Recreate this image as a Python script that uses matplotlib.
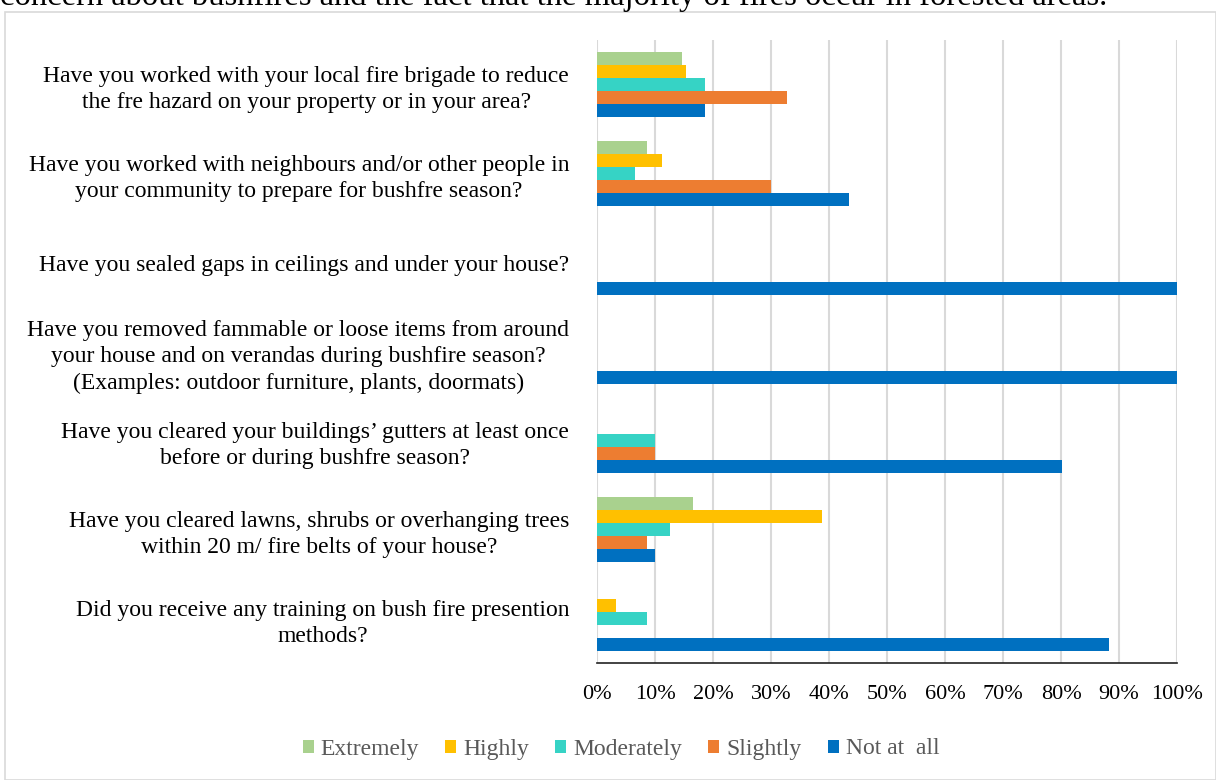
import numpy as np
import matplotlib
matplotlib.use("Agg")
import matplotlib.pyplot as plt
from matplotlib.patches import Rectangle
from matplotlib.ticker import PercentFormatter

plt.rcParams['font.family'] = ['Liberation Serif', 'DejaVu Serif']

questions = [
    "Have you worked with your local fire brigade to reduce\nthe fre hazard on your property or in your area?",
    "Have you worked with neighbours and/or other people in\nyour community to prepare for bushfre season?",
    "Have you sealed gaps in ceilings and under your house?",
    "Have you removed fammable or loose items from around\nyour house and on verandas during bushfire season?\n(Examples: outdoor furniture, plants, doormats)",
    "Have you cleared your buildings\u2019 gutters at least once\nbefore or during bushfre season?",
    "Have you cleared lawns, shrubs or overhanging trees\nwithin 20 m/ fire belts of your house?",
    "Did you receive any training on bush fire presention\nmethods?",
]

series_names = ["Extremely", "Highly", "Moderately", "Slightly", "Not at  all"]
colors = ["#A9D18E", "#FFC000", "#36D3C5", "#ED7D31", "#0070C0"]

extremely = [14.6, 8.6, 0, 0, 0, 16.6, 0]
highly = [15.3, 11.2, 0, 0, 0, 38.8, 3.3]
moderately = [18.6, 6.6, 0, 0, 10.0, 12.6, 8.6]
slightly = [32.8, 30.0, 0, 0, 10.0, 8.6, 0]
not_at_all = [18.6, 43.5, 100, 100, 80.2, 10.0, 88.3]

values = [extremely, highly, moderately, slightly, not_at_all]

fig = plt.figure(figsize=(12.16, 7.8), dpi=100)
ax = fig.add_axes([597 / 1216, 1 - 663 / 780, 580 / 1216, 623 / 780])

# page text cut off above the chart and the chart frame
fig.text(0.0, 1 - 5 / 780, "concern about bushfires and the fact that the majority of fires occur in forested areas.",
         fontsize=23.5, va='baseline', ha='left')
fig.patches.append(Rectangle((5 / 1216, 0), 1 - 5 / 1216, 1 - 12 / 780, transform=fig.transFigure,
                             fill=False, edgecolor="#D9D9D9", linewidth=1.2))

y = np.arange(len(questions))
h = 0.148
for i, (name, vals, c) in enumerate(zip(series_names, values, colors)):
    ax.barh(y + (i - 2) * h, vals, height=h, color=c, label=name, zorder=3)

ax.set_xlim(0, 100)
ax.set_ylim(len(questions) - 0.5, -0.5)
ax.set_xticks(np.arange(0, 101, 10))
ax.xaxis.set_major_formatter(PercentFormatter(decimals=0))
ax.set_yticks(y)
ax.set_yticklabels(questions, fontsize=17, linespacing=1.34, multialignment='center')
ax.tick_params(axis='y', length=0, pad=20)
ax.tick_params(axis='x', length=0, pad=16, labelsize=16)
ax.grid(axis='x', color="#D9D9D9", linewidth=1.5, zorder=0)
for s in ['top', 'right', 'left']:
    ax.spines[s].set_visible(False)
ax.spines['bottom'].set_color("#222222")
ax.spines['bottom'].set_linewidth(1.2)
ax.spines['bottom'].set_zorder(4)

leg = ax.legend(loc='center', bbox_to_anchor=(621 / 1216, 1 - 749 / 780), bbox_transform=fig.transFigure,
                ncol=5, frameon=False, fontsize=17, handlelength=0.47, handleheight=0.47,
                handletextpad=0.3, columnspacing=1.1)
for t in leg.get_texts():
    t.set_color("#595959")

fig.savefig("out.png", dpi=100)
